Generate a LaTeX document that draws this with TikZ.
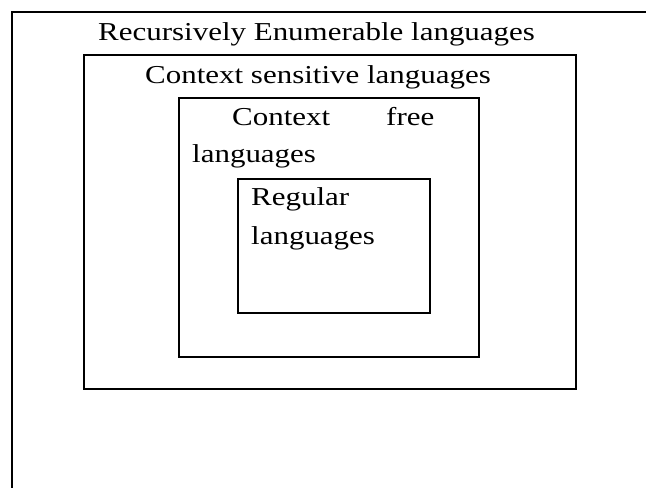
\documentclass[tikz,border=0pt]{standalone}
\usepackage{fontspec}
\setmainfont{Liberation Serif}[FakeStretch=1.2]
\begin{document}
\begin{tikzpicture}[x=1pt,y=-1pt,
  frame/.style={draw=black,line width=1.9pt,inner sep=0pt},
  label/.style={anchor=base west,inner sep=0pt,font=\fontsize{25.8}{30}\selectfont}]
\useasboundingbox (0,0) rectangle (646,488);
% outer (clipped) box: only top and left edges visible
\coordinate (otr) at (646,12);
\coordinate (otl) at (12,12);
\coordinate (obl) at (12,488);
\draw[line width=1.9pt] (otr) -- (otl) -- (obl);
\node[frame,minimum width=492pt,minimum height=334pt,anchor=north west] (cs) at (83,54) {};
\node[frame,minimum width=300pt,minimum height=259pt,anchor=north west] (cf) at (178,97) {};
\node[frame,minimum width=192pt,minimum height=134pt,anchor=north west] (reg) at (237,178) {};
\node[label] (t1) at (98,40) {Recursively Enumerable languages};
\node[label] (t2) at (145,83) {Context sensitive languages};
\node[label] (t3a) at (232,125) {Context};
\node[label] (t3b) at (386,125) {free};
\node[label] (t3c) at (192,162) {languages};
\node[label] (t4a) at (251,205) {Regular};
\node[label] (t4b) at (251,244) {languages};
\end{tikzpicture}
\end{document}
